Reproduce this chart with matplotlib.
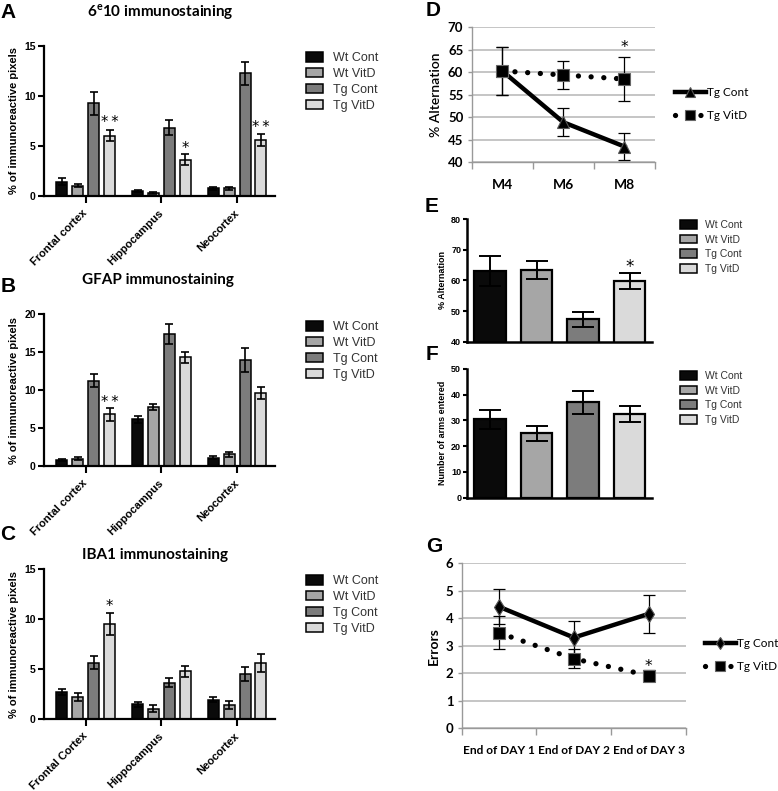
import matplotlib
matplotlib.use('Agg')
import matplotlib.pyplot as plt
import numpy as np
from matplotlib.patches import Patch
from matplotlib.lines import Line2D

plt.rcParams['mathtext.fontset'] = 'custom'
plt.rcParams['mathtext.rm'] = 'Lato'
plt.rcParams['mathtext.bf'] = 'Lato:bold'

ARIAL = 'Liberation Sans'
CALIBRI = 'Lato'

# ---------------- data ----------------
groups = ['Wt Cont', 'Wt VitD', 'Tg Cont', 'Tg VitD']
colors = ['#0a0a0a', '#a6a6a6', '#7c7c7c', '#dadada']

regions_ab = ['Frontal cortex', 'Hippocampus', 'Neocortex']
regions_c = ['Frontal Cortex', 'Hippocampus', 'Neocortex']

# Panel A: 6e10 (rows = groups, cols = regions)
a_mean = [[1.43, 0.53, 0.77],
          [1.05, 0.33, 0.77],
          [9.27, 6.83, 12.27],
          [6.03, 3.63, 5.60]]
a_err = [[0.35, 0.12, 0.15],
         [0.15, 0.08, 0.12],
         [1.15, 0.75, 1.15],
         [0.55, 0.55, 0.60]]
a_stars = ['*\u2009*', '*', '*\u2009*']
a_star_y = [7.77, 5.2, 7.27]

# Panel B: GFAP
b_mean = [[0.75, 6.12, 1.06],
          [0.97, 7.75, 1.54],
          [11.23, 17.4, 13.96],
          [6.78, 14.3, 9.65]]
b_err = [[0.15, 0.50, 0.20],
         [0.20, 0.40, 0.30],
         [0.85, 1.30, 1.55],
         [0.80, 0.70, 0.80]]
b_stars = ['*\u2009*', '', '']
b_star_y = [9.0, 0, 0]

# Panel C: IBA1
c_mean = [[2.69, 1.50, 1.93],
          [2.23, 1.03, 1.40],
          [5.65, 3.62, 4.52],
          [9.48, 4.79, 5.62]]
c_err = [[0.30, 0.25, 0.25],
         [0.40, 0.35, 0.40],
         [0.65, 0.45, 0.70],
         [1.10, 0.55, 0.90]]
c_stars = ['*', '', '']
c_star_y = [11.74, 0, 0]

# Panel D: % alternation over months
d_months = ['M4', 'M6', 'M8']
d_tg_cont = [60.3, 48.9, 43.5]
d_tg_cont_err = [5.4, 3.15, 3.0]
d_tg_vitd = [60.3, 59.4, 58.5]
d_tg_vitd_err = [5.4, 3.2, 4.8]

# Panel E: % alternation
e_mean = [63.1, 63.3, 47.3, 59.9]
e_err = [4.8, 3.0, 2.5, 2.6]

# Panel F: number of arms entered
f_mean = [30.5, 25.0, 37.1, 32.6]
f_err = [3.7, 3.0, 4.5, 3.1]

# Panel G: errors
g_days = ['End of DAY 1', 'End of DAY 2', 'End of DAY 3']
g_tg_cont = [4.42, 3.30, 4.16]
g_tg_cont_err = [0.63, 0.62, 0.68]
g_tg_vitd = [3.47, 2.53, 1.92]
g_tg_vitd_err = [0.60, 0.35, 0.20]

# ---------------- figure ----------------
W, H = 778, 791
fig = plt.figure(figsize=(W / 100, H / 100), dpi=100)


def add_ax(l, t, r, b):
    return fig.add_axes([l / W, 1 - b / H, (r - l) / W, (b - t) / H])


def fig_pt(x, y):
    return (x / W, 1 - y / H)


def star(ax, x, yc, s, size=11):
    ax.annotate(s, (x, yc), xytext=(0, -0.62 * size), textcoords='offset points',
                ha='center', va='baseline', fontsize=size, family='DejaVu Sans',
                annotation_clip=False)


def bar_legend(ax, x, y, fs=9, ls=0.3, font=ARIAL, hl=1.35, hh=0.8):
    handles = [Patch(facecolor=c, edgecolor='black', linewidth=1.1, label=g)
               for c, g in zip(colors, groups)]
    leg = ax.legend(handles=handles, loc='upper left', bbox_to_anchor=fig_pt(x, y),
                    bbox_transform=fig.transFigure, frameon=False, borderpad=0,
                    borderaxespad=0, handlelength=hl, handleheight=hh,
                    handletextpad=0.8, labelspacing=ls,
                    prop={'family': font, 'size': fs})
    for t in leg.get_texts():
        t.set_color('#333333')
    return leg


def region_panel(box, means, errs, cats, ymax, ystep, title, title_xy, stars, star_y, leg_y):
    ax = add_ax(*box)
    x = np.arange(len(cats))
    step, w = 0.21, 0.145
    for i in range(4):
        xs = x + (i - 1.5) * step
        ax.bar(xs, means[i], w, color=colors[i], edgecolor='black', linewidth=1.1, zorder=2)
        ax.errorbar(xs, means[i], yerr=errs[i], fmt='none', ecolor='black',
                    elinewidth=1.2, capsize=3, capthick=1.2, zorder=3)
    for j, s in enumerate(stars):
        if s:
            star(ax, x[j] + 1.5 * step, star_y[j], s, size=10.5)
    ax.set_xlim(-0.55, 2.5)
    ax.set_ylim(0, ymax)
    ax.set_yticks(np.arange(0, ymax + 0.1, ystep))
    ax.set_xticks(x)
    ax.set_xticklabels(cats, rotation=45, ha='right', va='center',
                       rotation_mode='anchor', fontsize=8, fontweight='bold', family=ARIAL)
    for lab in ax.get_yticklabels():
        lab.set_fontsize(7.5)
        lab.set_fontweight('bold')
        lab.set_family(ARIAL)
    ax.tick_params(axis='x', length=5, width=1.5, pad=6)
    ax.tick_params(axis='y', length=4, width=1.5, pad=2)
    for s in ['top', 'right']:
        ax.spines[s].set_visible(False)
    for s in ['left', 'bottom']:
        ax.spines[s].set_linewidth(1.6)
    ax.set_ylabel('% of immunoreactive pixels', fontsize=8, fontweight='bold',
                  family=ARIAL, labelpad=4)
    fig.text(*fig_pt(*title_xy), title, ha='center', va='center', fontsize=11,
             fontweight='bold', family=CALIBRI)
    bar_legend(ax, 306, leg_y)
    return ax


region_panel((44, 46, 275, 196), a_mean, a_err, regions_ab, 15, 5,
             r'6$^{\mathbf{e}}$10 immunostaining', (160, 12), a_stars, a_star_y, 52)
region_panel((44, 314, 275, 466), b_mean, b_err, regions_ab, 20, 5,
             'GFAP immunostaining', (158, 280), b_stars, b_star_y, 321)
region_panel((44, 569, 275, 719), c_mean, c_err, regions_c, 15, 5,
             'IBA1 immunostaining', (155, 555), c_stars, c_star_y, 575)


def line_panel(box, cats, cont, cont_err, vit, vit_err, ylim, ystep, ylabel, cont_marker,
               cont_ms, star_y, leg_xy, xlab_fs, ylab_bold):
    ax = add_ax(*box)
    x = np.arange(len(cats))
    ax.errorbar(x, cont, yerr=cont_err, fmt='none', ecolor='black', elinewidth=0.9,
                capsize=4, capthick=0.9, zorder=3)
    ax.errorbar(x, vit, yerr=vit_err, fmt='none', ecolor='black', elinewidth=0.9,
                capsize=4, capthick=0.9, zorder=3)
    ax.plot(x, cont, color='black', lw=3.2, marker=cont_marker, ms=cont_ms,
            markeredgecolor='#555555', markeredgewidth=0.8, zorder=4, label='Tg Cont')
    ax.plot(x, vit, color='black', lw=3.8, linestyle=(0, (0.01, 2.4)), dash_capstyle='round',
            marker='s', ms=9, markeredgecolor='#666666', markeredgewidth=0.8, zorder=5,
            label='Tg VitD')
    star(ax, x[2], star_y, '*', size=11)
    ax.set_xlim(-0.5, 2.5)
    ax.set_ylim(*ylim)
    ax.set_yticks(np.arange(ylim[0], ylim[1] + 0.01, ystep))
    ax.yaxis.grid(True, color='#b5b5b5', lw=1.1)
    ax.set_axisbelow(True)
    for s in ['top', 'right']:
        ax.spines[s].set_visible(False)
    for s in ['left', 'bottom']:
        ax.spines[s].set_color('#999999')
        ax.spines[s].set_linewidth(1.0)
    ax.set_xticks(x)
    ax.set_xticklabels(cats, fontsize=xlab_fs, fontweight='bold', family=CALIBRI)
    ax.set_xticks([-0.5, 0.5, 1.5, 2.5], minor=True)
    ax.tick_params(axis='x', which='major', length=0, pad=12)
    ax.tick_params(axis='x', which='minor', length=5, color='#999999', width=1)
    ax.tick_params(axis='y', length=3, color='#999999', width=1, pad=3)
    for lab in ax.get_yticklabels():
        lab.set_fontsize(9.5)
        lab.set_fontweight('bold')
        lab.set_family(CALIBRI)
    ax.set_ylabel(ylabel, fontsize=10, fontweight='bold' if ylab_bold else 'semibold',
                  family=CALIBRI, labelpad=4)
    ax.legend(loc='center left', bbox_to_anchor=fig_pt(*leg_xy),
              bbox_transform=fig.transFigure, frameon=False, borderpad=0,
              borderaxespad=0, handlelength=2.6, handletextpad=0.15,
              labelspacing=1.0, prop={'family': CALIBRI, 'size': 8.5},
              markerscale=0.75)
    return ax


line_panel((471.7, 27.3, 655, 162.3), d_months, d_tg_cont, d_tg_cont_err, d_tg_vitd,
           d_tg_vitd_err, (40, 70), 5, '% Alternation', '^', 9, 66.6, (675, 104), 10, False)
line_panel((461.7, 563.3, 686, 728.3), g_days, g_tg_cont, g_tg_cont_err, g_tg_vitd,
           g_tg_vitd_err, (0, 6), 1, 'Errors', 'd', 8, 2.42, (705, 655), 8.6, True)


def beh_bar_panel(box, means, errs, ylim, ystep, ylabel, leg_y, star_y=None):
    ax = add_ax(*box)
    x = np.arange(4)
    ax.bar(x, means, 0.68, color=colors, edgecolor='black', linewidth=1.6, zorder=2)
    ax.errorbar(x, means, yerr=errs, fmt='none', ecolor='black', elinewidth=1.4,
                capsize=8, capthick=1.4, zorder=3)
    if star_y is not None:
        star(ax, x[3], star_y, '*', size=12)
    ax.set_xlim(-0.5, 3.48)
    ax.set_ylim(*ylim)
    ax.set_yticks(np.arange(ylim[0], ylim[1] + 0.01, ystep))
    ax.set_xticks([])
    for s in ['top', 'right']:
        ax.spines[s].set_visible(False)
    for s in ['left', 'bottom']:
        ax.spines[s].set_linewidth(1.8)
    ax.tick_params(axis='y', length=3, width=1.5, pad=1)
    for lab in ax.get_yticklabels():
        lab.set_fontsize(6.5)
        lab.set_fontweight('bold')
        lab.set_family(ARIAL)
    ax.set_ylabel(ylabel, fontsize=6.5, fontweight='bold', family=ARIAL, labelpad=3)
    bar_legend(ax, 680, leg_y, fs=7.5, ls=0.45, hl=1.6, hh=0.9)
    return ax


beh_bar_panel((466.7, 219, 652, 341.7), e_mean, e_err, (40, 80), 10, '% Alternation', 220, 66.2)
beh_bar_panel((466.7, 369, 652, 497.7), f_mean, f_err, (0, 50), 10, 'Number of arms entered', 371)

# panel letters
for lab, (px, py) in {'A': (8, 12), 'B': (8, 287), 'C': (8, 535), 'D': (433, 10),
                      'E': (432, 207), 'F': (432, 355), 'G': (434, 547)}.items():
    fig.text(*fig_pt(px, py), lab, ha='center', va='center', fontsize=15,
             fontweight='bold', family=ARIAL)

fig.savefig('out.png', dpi=100)
